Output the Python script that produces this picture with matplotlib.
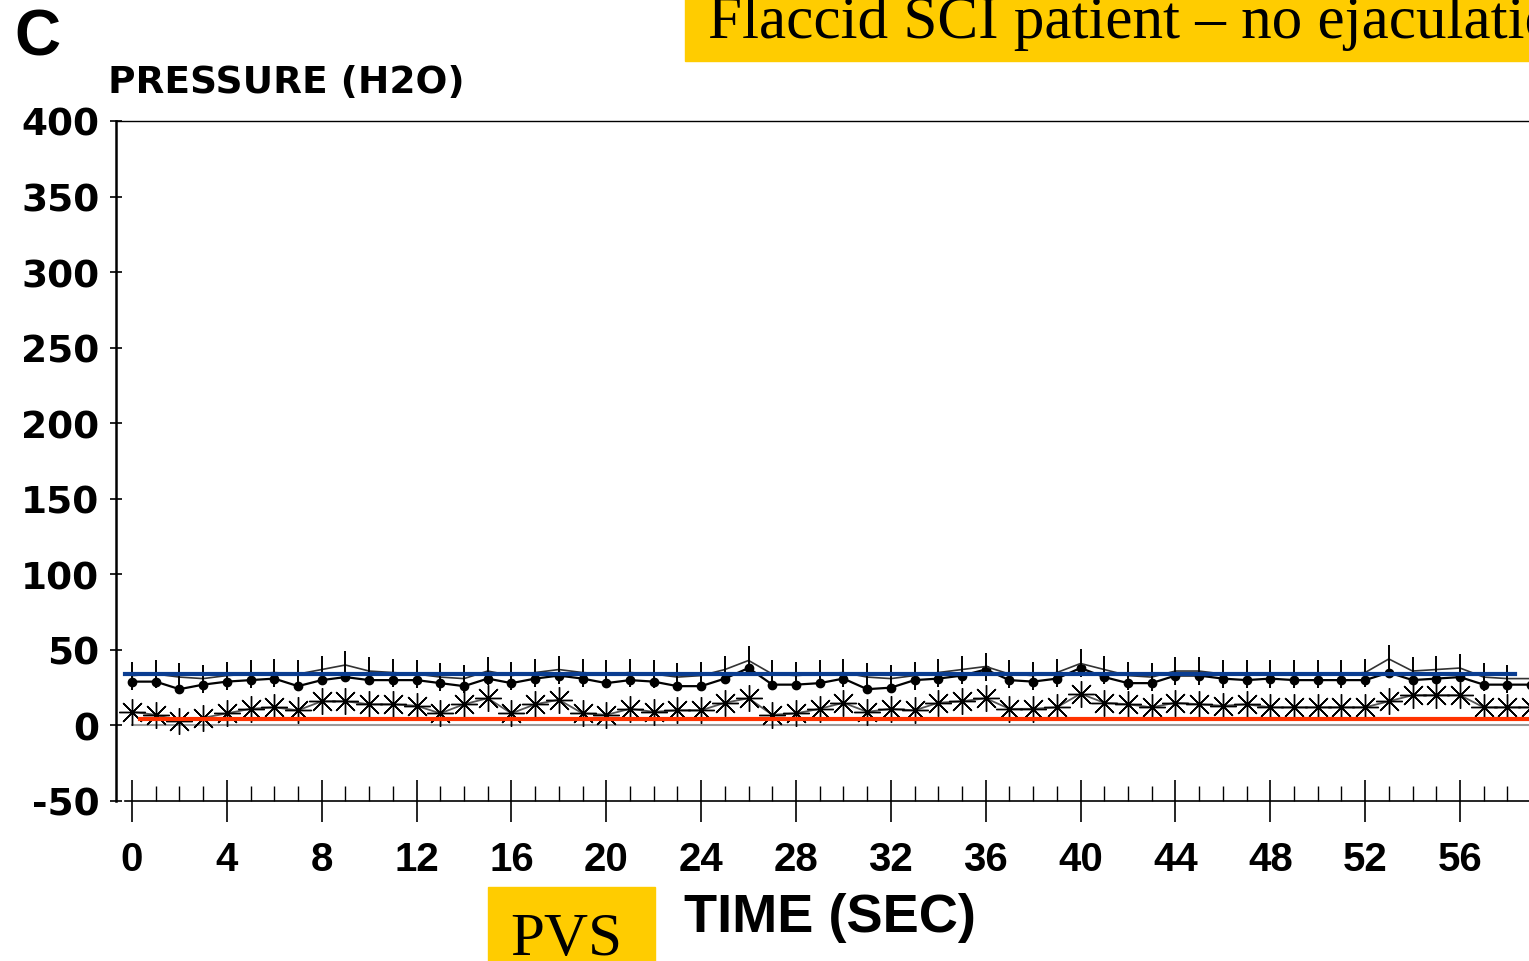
import matplotlib
matplotlib.use("Agg")
import matplotlib.pyplot as plt
from matplotlib.patches import Rectangle
from matplotlib.ticker import MultipleLocator

W, H = 1529, 962

# pressure traces, one sample per second (cm H2O)
time_sec = list(range(60))
dots = [29, 29, 24, 27, 29, 30, 31, 26, 30, 32,
        30, 30, 30, 28, 26, 31, 28, 31, 33, 31,
        28, 30, 29, 26, 26, 31, 38, 27, 27, 28,
        31, 24, 25, 30, 31, 33, 37, 30, 29, 31,
        38, 32, 28, 28, 33, 33, 31, 30, 31, 30,
        30, 30, 30, 35, 30, 31, 32, 27, 27, 27]
plus = [33, 34, 32, 31, 33, 34, 35, 34, 37, 40,
        36, 35, 34, 32, 31, 36, 33, 35, 37, 35,
        34, 35, 34, 32, 33, 37, 43, 34, 33, 34,
        35, 32, 31, 33, 35, 37, 39, 34, 33, 35,
        41, 37, 33, 32, 36, 36, 34, 34, 34, 34,
        34, 34, 35, 44, 36, 37, 38, 32, 31, 31]
stars = [9, 7, 3, 5, 8, 11, 12, 10, 16, 16,
         14, 14, 13, 8, 14, 18, 8, 14, 17, 8,
         7, 11, 9, 10, 10, 15, 18, 7, 8, 11,
         15, 9, 11, 10, 15, 16, 18, 11, 11, 12,
         21, 15, 14, 12, 15, 14, 13, 14, 12, 12,
         12, 12, 12, 16, 20, 20, 20, 12, 12, 12]

# reference levels drawn over the scan
blue_span = [-0.3, 58.3]
blue_level = [34, 34]
red_span = [0.35, 60]
red_level = [4.5, 4.5]
base_span = [0, 60]
base_level = [0.5, 0.5]

y_ticks = [-50, 0, 50, 100, 150, 200, 250, 300, 350, 400]
x_ticks = list(range(0, 57, 4))

fig = plt.figure(figsize=(W / 100, H / 100), dpi=100)
ax = fig.add_axes([116 / W, (H - 802) / H, (W - 116) / W, 680 / H])
ax.set_xlim(-0.675, (W - 132) / 23.714)
ax.set_ylim(-50, 400)

ax.plot(base_span, base_level, color="#9a9a9a", lw=1.5)
ax.plot(time_sec, stars, color="#555555", lw=1.3, marker=(8, 2, 0), ms=19, mew=1.0, mec="black")
ax.plot(time_sec, dots, color="black", lw=1.6, marker="o", ms=6)
ax.plot(time_sec, plus, color="#333333", lw=1.2, marker="|", ms=20, mew=1.4, mec="black")
ax.plot(blue_span, blue_level, color="#0a3d91", lw=3)
ax.plot(red_span, red_level, color="#ff3300", lw=3)

ax.spines["right"].set_visible(False)
ax.spines["left"].set_linewidth(1.8)
ax.spines["top"].set_linewidth(1.0)
ax.spines["bottom"].set_linewidth(1.2)
ax.spines["bottom"].set_bounds(-0.3, 60)

ax.set_yticks(y_ticks)
ax.set_yticklabels([str(v) for v in y_ticks], family="DejaVu Sans", weight="bold", size=27)
ax.tick_params(axis="y", direction="inout", length=8, width=1.2, pad=8)

ax.set_xticks(x_ticks)
ax.set_xticklabels([str(v) for v in x_ticks], family="Liberation Sans", weight="bold", size=29)
ax.xaxis.set_minor_locator(MultipleLocator(1))
ax.tick_params(axis="x", which="major", direction="inout", length=30, width=1.2, pad=13)
ax.tick_params(axis="x", which="minor", direction="in", length=11, width=1.0)

fig.text(14 / W, 1 - 39 / H, "C", family="Liberation Sans", weight="bold", size=46, va="center")
fig.text(108 / W, 1 - 83 / H, "PRESSURE (H2O)", family="DejaVu Sans", weight="bold", size=27, va="center")
fig.text(684 / W, 1 - 918 / H, "TIME (SEC)", family="Liberation Sans", weight="bold", size=39, va="center")

fig.patches.append(Rectangle((685 / W, 1 - 62 / H), (W - 685) / W, 62 / H,
                             transform=fig.transFigure, color="#ffcc00", zorder=0))
fig.text(708 / W, 1 - 38 / H, "Flaccid SCI patient \u2013 no ejaculation",
         family="Liberation Serif", size=44, va="baseline")
fig.patches.append(Rectangle((488 / W, 0), 167 / W, 74 / H,
                             transform=fig.transFigure, color="#ffcc00", zorder=0))
fig.text(510 / W, 1 - 912 / H, "PVS", family="Liberation Serif", size=44, va="top")

fig.savefig("out.png", dpi=100)
